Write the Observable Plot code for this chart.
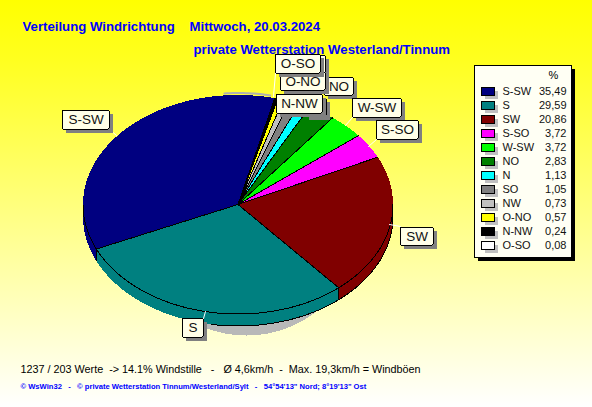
<!DOCTYPE html>
<html>
<head>
<meta charset="utf-8">
<script src="https://cdn.jsdelivr.net/npm/d3@7"></script>
<script src="https://cdn.jsdelivr.net/npm/@observablehq/plot@0.6"></script>
<style>
html,body{margin:0;padding:0;width:592px;height:407px;overflow:hidden;background:linear-gradient(#ffff00 0%,#ffff20 15%,#ffffff 100%);}
svg{display:block}
</style>
</head>
<body>
<script>
// legend order (as listed in the chart)
const legendNames = ["S-SW","S","SW","S-SO","W-SW","NO","N","SO","NW","O-NO","N-NW","O-SO"];
const legendValues = [35.49,29.59,20.86,3.72,3.72,2.83,1.13,1.05,0.73,0.57,0.24,0.08];
const legendColors = ["#000080","#008080","#800000","#ff00ff","#00ff00","#008000","#00ffff","#808080","#c0c0c0","#ffff00","#000000","#ffffff"];
// clockwise order of the slices on the pie
const pieOrder = ["S-SW","O-SO","N-NW","O-NO","NW","SO","N","NO","W-SW","S-SO","SW","S"];

// layout (kept apart from the data)
const W = 592, H = 407;
const pie = {cx: 237.5, cy: 204, rx: 155, ry: 109.5, depth: 12, start: 246};
const labelBoxes = [
  {t:"",    x1:305,x2:326,y1:98, y2:116},
  {t:"",    x1:300,x2:325,y1:55, y2:73},
  {t:"",    x1:300,x2:325,y1:73, y2:90},
  {t:"NO",  x1:324,x2:353,y1:77, y2:95},
  {t:"W-SW",x1:352,x2:401,y1:98, y2:117},
  {t:"S-SO",x1:376,x2:418,y1:120,y2:139},
  {t:"O-NO",x1:280,x2:325,y1:72, y2:90},
  {t:"N-NW",x1:276,x2:322,y1:94, y2:113},
  {t:"O-SO",x1:275,x2:320,y1:54, y2:73},
  {t:"S-SW",x1:62, x2:109,y1:110,y2:129},
  {t:"S",   x1:182,x2:203,y1:318,y2:337},
  {t:"SW",  x1:400,x2:433,y1:227,y2:245}
];
const leaders = [
  [[109,129],[116,135]],
  [[203,318],[205,311]],
  [[400,226],[389,224]],
  [[376,139],[368,146]],
  [[352,117],[345,125]],
  [[275,73],[273,96]]
];
const shadowOffset = 4;
const titles = [
  {t:"Verteilung Windrichtung", x:22, y:26},
  {t:"Mittwoch, 20.03.2024", x:189, y:26},
  {t:"private Wetterstation Westerland/Tinnum", x:193, y:49}
];
const statLine = "1237 / 203 Werte  -> 14.1% Windstille   -   Ø 4,6km/h  -  Max. 19,3km/h = Windböen";
const creditLine = "© WsWin32   -   © private Wetterstation Tinnum/Westerland/Sylt   -   54°54'13\" Nord; 8°19'13\" Ost";

const valueOf = new Map(legendNames.map((n,i)=>[n,legendValues[i]]));
const total = d3.sum(legendValues);
const rim = (deg, dy=0) => {
  const a = deg*Math.PI/180;
  return {x: pie.cx + pie.rx*Math.sin(a), y: pie.cy - pie.ry*Math.cos(a) + dy};
};

// slice angles from the values
let acc = pie.start;
const slices = pieOrder.map(name => {
  const from = acc; acc += valueOf.get(name)/total*360;
  return {name, from, to: acc};
});
const arc = (from,to,dy=0) => {
  const n = Math.max(1,Math.ceil(to-from)), out = [];
  for (let i=0;i<=n;i++) out.push(rim(from+(to-from)*i/n,dy));
  return out;
};
const centre = {x:pie.cx,y:pie.cy};
const wedgePts = slices.flatMap(s =>
  [centre,...arc(s.from,s.to),centre].map(p=>({...p,name:s.name})));
const radialPts = slices.flatMap(s =>
  [centre,rim(s.from)].map(p=>({...p,name:s.name})));
// visible outer wall: the part of each slice on the front half of the ellipse
const frontRanges = [[90,270],[450,630]];
const sidePts = slices.flatMap(s => {
  const parts = [];
  for (const [lo,hi] of frontRanges) {
    const f = Math.max(s.from,lo), t = Math.min(s.to,hi);
    if (t>f) parts.push([f,t]);
  }
  return parts.flatMap(([f,t],k) => {
    const pts = [...arc(f,t),...arc(f,t,pie.depth).reverse()];
    pts.push(pts[0]);
    return pts.map(p=>({...p,name:s.name,key:s.name+k}));
  });
});
const frontRim = arc(90,270);
const bottomRim = arc(90,190,pie.depth);
const wallSeams = slices
  .filter(s => { const a=((s.from%360)+360)%360; return a>90 && a<270; })
  .flatMap(s => [rim(s.from),rim(s.from,pie.depth)].map(p=>({...p,name:s.name})));
const shadowPts = d3.range(0,361,3).map(d=>{
  const a=d*Math.PI/180;
  return {x:246+112*Math.sin(a), y:225-110*Math.cos(a)};
});
const backSliver = arc(-5,12,-2);
const leaderPts = leaders.flatMap((l,i)=>l.map(p=>({x:p[0],y:p[1],i})));

// legend rows
const legendRows = legendNames.map((name,i)=>({
  name, label: legendValues[i].toFixed(2).replace(".",","), y: 91+14*i
}));

const crisp = {shapeRendering:"crispEdges"};
const chart = Plot.plot({
  width:W, height:H, margin:0,
  x:{domain:[0,W],range:[0,W],axis:null},
  y:{domain:[0,H],range:[0,H],axis:null},
  color:{domain:legendNames,range:legendColors},
  style:{background:"transparent",whiteSpace:"pre",fontFamily:"Liberation Sans"},
  marks:[
    Plot.line(shadowPts,{x:"x",y:"y",fill:"#b8b8b8",stroke:"none",...crisp}),
    Plot.line(backSliver,{x:"x",y:"y",stroke:"#b0b0b0",strokeWidth:2}),
    Plot.line(sidePts,{x:"x",y:"y",z:"key",fill:"name",stroke:"none",...crisp}),
    Plot.line(wedgePts,{x:"x",y:"y",z:"name",fill:"name",stroke:"none",...crisp}),
    Plot.line(radialPts,{x:"x",y:"y",z:"name",stroke:"black",strokeWidth:1,...crisp}),
    Plot.line(wallSeams,{x:"x",y:"y",z:"name",stroke:"black",strokeWidth:1,...crisp}),
    Plot.line(frontRim,{x:"x",y:"y",stroke:"black",strokeWidth:1,...crisp}),
    Plot.line(bottomRim,{x:"x",y:"y",stroke:"black",strokeWidth:1,...crisp}),
    Plot.line(leaderPts,{x:"x",y:"y",z:"i",stroke:"white",strokeWidth:1}),
    // pie labels: drawn in order, each with its own shadow
    ...labelBoxes.flatMap(b=>[
      Plot.rect([b],{x1:d=>d.x1+shadowOffset,x2:d=>d.x2+shadowOffset,y1:d=>d.y1+shadowOffset,y2:d=>d.y2+shadowOffset,fill:"#808080",...crisp}),
      Plot.rect([b],{x1:"x1",x2:"x2",y1:"y1",y2:"y2",fill:"#ffffe8",stroke:"black",rx:1,...crisp}),
      ...(b.t ? [Plot.text([b],{x:d=>(d.x1+d.x2)/2,y:d=>(d.y1+d.y2)/2,text:"t",fontSize:13.5,fill:"#111"})] : [])
    ]),
    // legend
    Plot.rect([0],{x1:478,x2:575,y1:69,y2:261,fill:"black",...crisp}),
    Plot.rect([0],{x1:474,x2:571,y1:65,y2:257,fill:"#fffff4",stroke:"black",...crisp}),
    Plot.text(["%"],{x:553,y:75,text:d=>d,fontSize:11,fill:"black"}),
    Plot.rect(legendRows,{x1:485,x2:498,y1:d=>d.y,y2:d=>d.y+8,fill:"#c0c0c0",...crisp}),
    Plot.rect(legendRows,{x1:481,x2:494,y1:d=>d.y-4,y2:d=>d.y+4,fill:"name",stroke:"black",...crisp}),
    Plot.text(legendRows,{x:502,y:"y",text:"name",textAnchor:"start",fontSize:11,fill:"#111"}),
    Plot.text(legendRows,{x:566,y:"y",text:"label",textAnchor:"end",fontSize:11,fill:"#111"}),
    // titles and footer
    Plot.text(titles,{x:"x",y:"y",text:"t",textAnchor:"start",fontSize:13.2,fontWeight:"bold",fill:"#0000ff"}),
    Plot.text([statLine],{x:20,y:369,text:d=>d,textAnchor:"start",fontSize:10.8,fill:"black"}),
    Plot.text([creditLine],{x:20,y:386,text:d=>d,textAnchor:"start",fontSize:7.6,fontWeight:"bold",fontFamily:"Liberation Sans",fill:"#0000ff"})
  ]
});
document.body.appendChild(chart);
</script>
</body>
</html>
